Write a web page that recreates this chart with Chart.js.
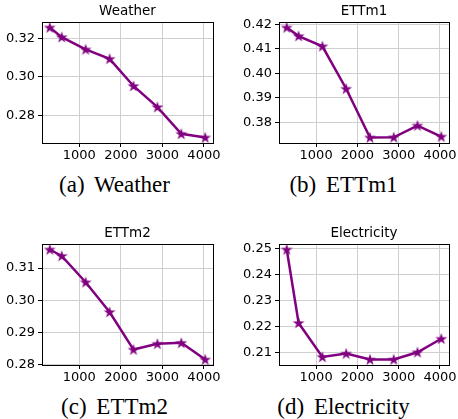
<!DOCTYPE html>
<html lang="en">
<head>
    <meta charset="UTF-8">
    <title>Error vs input length</title>
    <script src="https://cdn.jsdelivr.net/npm/chart.js@4.4.1/dist/chart.umd.min.js"></script>
    <style>
        body { margin: 0; background: #fff; }
        .wrap { position: relative; width: 458px; height: 419px; }
        .panel { position: absolute; width: 229px; height: 165px; }
        .caption {
            position: absolute;
            width: 229px;
            text-align: center;
            font-family: "Liberation Serif", "DejaVu Serif", serif;
            font-size: 23px;
            word-spacing: 4px;
            color: #000;
        }
    </style>
</head>
<body>
    <div class="wrap">
        <div class="panel" style="left:0;top:0"><canvas id="c0" width="229" height="165"></canvas></div>
        <div class="panel" style="left:229px;top:0"><canvas id="c1" width="229" height="165"></canvas></div>
        <div class="panel" style="left:0;top:222px"><canvas id="c2" width="229" height="165"></canvas></div>
        <div class="panel" style="left:229px;top:222px"><canvas id="c3" width="229" height="165"></canvas></div>
        <div class="caption" style="left:0;top:172px">(a) Weather</div>
        <div class="caption" style="left:229px;top:172px">(b) ETTm1</div>
        <div class="caption" style="left:0;top:394px">(c) ETTm2</div>
        <div class="caption" style="left:229px;top:394px">(d) Electricity</div>
    </div>
    <script>
        // input lengths (x axis)
        var lengths = [288, 576, 1152, 1728, 2304, 2880, 3456, 4032];

        // MSE per dataset
        var weather = [0.3257, 0.3207, 0.3143, 0.3094, 0.2953, 0.2843, 0.2704, 0.2685];
        var ettm1 = [0.4188, 0.4153, 0.4111, 0.3937, 0.3737, 0.3738, 0.3786, 0.3741];
        var ettm2 = [0.3158, 0.3138, 0.3056, 0.2963, 0.2846, 0.2864, 0.2867, 0.2815];
        var electricity = [0.2496, 0.2213, 0.2082, 0.2095, 0.2072, 0.2072, 0.2100, 0.2152];

        var titles = ["Weather", "ETTm1", "ETTm2", "Electricity"];
        var yStep = [0.02, 0.01, 0.01, 0.01];
        var xTicks = [1000, 2000, 3000, 4000];

        var purple = "#800080";

        // filled five point star like matplotlib's '*'
        function makeStar() {
            var c = document.createElement("canvas");
            c.width = 14; c.height = 14;
            var ctx = c.getContext("2d");
            var R = 6.2, r = R * 0.382;
            ctx.beginPath();
            for (var i = 0; i < 10; i++) {
                var rad = i % 2 === 0 ? R : r;
                var a = -Math.PI / 2 + i * Math.PI / 5;
                var px = 7 + rad * Math.cos(a), py = 7.4 + rad * Math.sin(a);
                if (i === 0) ctx.moveTo(px, py); else ctx.lineTo(px, py);
            }
            ctx.closePath();
            ctx.fillStyle = purple;
            ctx.fill();
            return c;
        }
        var star = makeStar();

        // axes box + subplot title centred over the plot area
        var frame = {
            id: "frame",
            afterDraw: function (chart) {
                var a = chart.chartArea, ctx = chart.ctx;
                ctx.save();
                ctx.strokeStyle = "#000";
                ctx.lineWidth = 1;
                ctx.strokeRect(Math.round(a.left) + 0.5, Math.round(a.top) + 0.5,
                    Math.round(a.right - a.left), Math.round(a.bottom - a.top));
                ctx.fillStyle = "#000";
                ctx.font = "13.5px 'DejaVu Sans'";
                ctx.textAlign = "center";
                ctx.textBaseline = "middle";
                ctx.fillText(chart.options.plugins.frame.title, (a.left + a.right) / 2, a.top - 10.5);
                ctx.restore();
            }
        };

        function makeChart(id, values, idx) {
            var lo = Math.min.apply(null, values), hi = Math.max.apply(null, values);
            var pad = (hi - lo) * 0.05;
            var step = yStep[idx];
            var yw = idx % 2 === 0 ? 42 : 50;
            var rightPad = idx % 2 === 0 ? 16 : 9;

            new Chart(document.getElementById(id), {
                type: "line",
                data: {
                    datasets: [{
                        data: lengths.map(function (x, i) { return { x: x, y: values[i] }; }),
                        borderColor: purple,
                        backgroundColor: purple,
                        borderWidth: 2.5,
                        pointStyle: star,
                        tension: 0,
                        fill: false
                    }]
                },
                options: {
                    responsive: false,
                    animation: false,
                    layout: { padding: { left: 0, right: rightPad, top: 22, bottom: 0 } },
                    plugins: {
                        legend: { display: false },
                        tooltip: { enabled: false },
                        title: { display: false },
                        frame: { title: titles[idx] }
                    },
                    scales: {
                        x: {
                            type: "linear",
                            min: 288 - 187.2,
                            max: 4032 + 187.2,
                            afterBuildTicks: function (s) {
                                s.ticks = xTicks.map(function (v) { return { value: v }; });
                            },
                            afterFit: function (s) { s.height = 22; },
                            grid: { color: "#cfcfcf", lineWidth: 1, drawTicks: true, tickLength: 4, tickColor: "#000" },
                            border: { display: false },
                            ticks: {
                                color: "#000",
                                maxRotation: 0,
                                autoSkip: false,
                                padding: 1,
                                font: { family: "DejaVu Sans", size: 13 },
                                callback: function (v) { return String(v); }
                            }
                        },
                        y: {
                            type: "linear",
                            min: lo - pad,
                            max: hi + pad,
                            afterBuildTicks: function (s) {
                                var t = [];
                                var k0 = Math.ceil((s.min - 1e-9) / step);
                                for (var k = k0; k * step <= s.max + 1e-9; k++) t.push({ value: +(k * step).toFixed(4) });
                                s.ticks = t;
                            },
                            afterFit: function (s) { s.width = yw; },
                            grid: { color: "#cfcfcf", lineWidth: 1, drawTicks: true, tickLength: 4, tickColor: "#000" },
                            border: { display: false },
                            ticks: {
                                color: "#000",
                                autoSkip: false,
                                padding: 3,
                                font: { family: "DejaVu Sans", size: 13 },
                                callback: function (v) { return v.toFixed(2); }
                            }
                        }
                    }
                },
                plugins: [frame]
            });
        }

        makeChart("c0", weather, 0);
        makeChart("c1", ettm1, 1);
        makeChart("c2", ettm2, 2);
        makeChart("c3", electricity, 3);
    </script>
</body>
</html>
